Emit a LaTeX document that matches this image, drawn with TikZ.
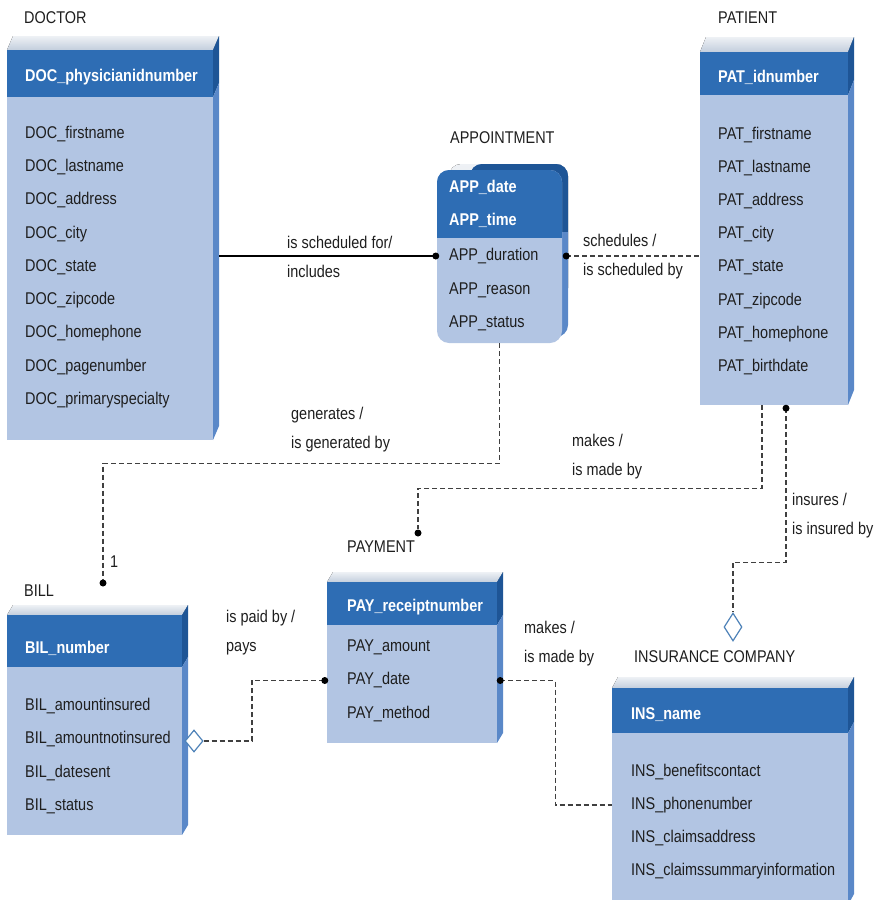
\documentclass[tikz,border=0pt]{standalone}
\usepackage{fontspec}
\setmainfont{Liberation Sans}[FakeStretch=0.85]
\usetikzlibrary{shapes.geometric,fit}
\definecolor{headblue}{HTML}{2E6DB4}
\definecolor{bodyblue}{HTML}{B2C5E3}
\definecolor{sidedark}{HTML}{1E5596}
\definecolor{sidemid}{HTML}{5A88C8}
\definecolor{topgrey}{HTML}{C3CEDD}
\definecolor{toplight}{HTML}{EEF1F5}
\definecolor{txt}{HTML}{1E1E1E}
\definecolor{diamondblue}{HTML}{4E82B8}
\tikzset{
 every node/.style={font=\fontsize{17}{29}\selectfont, text=txt},
 front/.style={rectangle, inner sep=0, fill=bodyblue},
 keyattr/.style={anchor=west, inner sep=0, text=white, font=\fontsize{17}{29}\selectfont\bfseries},
 attr/.style={anchor=west, inner sep=0},
 title/.style={anchor=west, inner sep=0},
 rel/.style={anchor=west, inner sep=0, align=left},
 idrel/.style={draw=black, line width=2pt},
 nonid/.style={draw=txt!85, line width=1.3pt, dash pattern=on 5pt off 3pt},
 dot/.style={circle, fill=black, inner sep=0, minimum size=7pt},
 agg/.style={diamond, draw=diamondblue, fill=white, line width=1.2pt, inner sep=0, minimum width=18pt, minimum height=24pt},
}
% #1 name, #2 x1, #3 y1, #4 x2, #5 y2, #6 header bottom, #7 top depth
\newcommand\erbox[7]{%
 \fill[top color=toplight, bottom color=topgrey] (#2,#3) -- (#2+6,#3-#7) -- (#4+6,#3-#7) -- (#4,#3) -- cycle;
 \fill[sidedark] (#4,#3) -- (#4+6,#3-#7) -- (#4+6,#6-#7) -- (#4,#6) -- cycle;
 \fill[sidemid] (#4,#6) -- (#4+6,#6-#7) -- (#4+6,#5-#7) -- (#4,#5) -- cycle;
 \node[front, fit={(#2,#3) (#4,#5)}] (#1) {};
 \fill[headblue] (#2,#3) rectangle (#4,#6);
}
\begin{document}
\begin{tikzpicture}[x=1pt,y=-1pt]
\useasboundingbox (0,0) rectangle (878,900);

% ---------- DOCTOR
\erbox{doc}{7}{50}{213}{440}{97}{14}
\node[title] (doctitle) at (24,18) {DOCTOR};
\node[keyattr] (dockey) at (25,77) {DOC\_physicianidnumber};
\foreach \t [count=\i] in {firstname,lastname,address,city,state,zipcode,homephone,pagenumber,primaryspecialty}
  \node[attr] (doc\i) at (25,{134+(\i-1)*33.25}) {DOC\_\t};

% ---------- PATIENT
\erbox{pat}{700}{52}{848}{405}{95}{15}
\node[title] (pattitle) at (718,18) {PATIENT};
\node[keyattr] (patkey) at (718,77) {PAT\_idnumber};
\foreach \t [count=\i] in {firstname,lastname,address,city,state,zipcode,homephone,birthdate}
  \node[attr] (pat\i) at (718,{135+(\i-1)*33.15}) {PAT\_\t};

% ---------- APPOINTMENT
\fill[top color=toplight, bottom color=topgrey, rounded corners=12pt] (449,164) rectangle (568,300);
\fill[sidemid, rounded corners=12pt] (470,164) rectangle (568,337);
\begin{scope}
 \clip[rounded corners=12pt] (470,164) rectangle (568,337);
 \fill[sidedark] (470,164) rectangle (568,232);
\end{scope}
\node[front, rounded corners=12pt, fit={(437,170) (562,343)}] (app) {};
\begin{scope}
 \clip[rounded corners=12pt] (437,170) rectangle (562,343);
 \fill[headblue] (437,170) rectangle (562,238);
\end{scope}
\node[title] (apptitle) at (450,138) {APPOINTMENT};
\node[keyattr] (appk1) at (449,187) {APP\_date};
\node[keyattr] (appk2) at (449,220) {APP\_time};
\node[attr] (app1) at (449,256) {APP\_duration};
\node[attr] (app2) at (449,290) {APP\_reason};
\node[attr] (app3) at (449,323) {APP\_status};

% ---------- BILL
\erbox{bil}{7}{615}{182}{835}{667}{10}
\node[title] (biltitle) at (24,591) {BILL};
\node[keyattr] (bilkey) at (25,648) {BIL\_number};
\foreach \t [count=\i] in {amountinsured,amountnotinsured,datesent,status}
  \node[attr] (bil\i) at (25,{706+(\i-1)*33.3}) {BIL\_\t};

% ---------- PAYMENT
\erbox{pay}{327}{582}{497}{743}{625}{10}
\node[title] (paytitle) at (347,547) {PAYMENT};
\node[keyattr] (paykey) at (347,607) {PAY\_receiptnumber};
\foreach \t [count=\i] in {amount,date,method}
  \node[attr] (pay\i) at (347,{647+(\i-1)*33.5}) {PAY\_\t};

% ---------- INSURANCE COMPANY
\erbox{ins}{612}{688}{848}{905}{733}{11}
\node[title] (instit) at (634,657) {INSURANCE COMPANY};
\node[keyattr] (inskey) at (631,715) {INS\_name};
\foreach \t [count=\i] in {benefitscontact,phonenumber,claimsaddress,claimssummaryinformation}
  \node[attr] (ins\i) at (631,{772+(\i-1)*33}) {INS\_\t};

% ---------- connectors
\node[dot] (bd) at (103,583) {};
\node[dot] (pd) at (418,533) {};
\node[agg, minimum height=28pt] (idia) at (733,627) {};
\node[agg, minimum height=22pt] (bdia) at (194,741) {};

\draw[idrel] ([xshift=6pt]doc.east |- app1) -- ([xshift=-1pt]app.west |- app1) node[dot] (d1) {};
\draw[nonid] ([xshift=4pt]app.east |- app1) node[dot] (d2) {} -- (pat.west |- app1);
\draw[nonid] (app.south) -- ++(0,120) -| (bd);
\draw[nonid] ([xshift=-12pt]pat.south) -- ++(0,83) -| (pd);
\draw[nonid] ([xshift=12pt,yshift=-3pt]pat.south) node[dot] (d3) {} -- ++(0,154) -| (idia);
\draw[nonid] (bdia) -- ++(58,0) |- ([xshift=-2pt]pay.west |- pay2) node[dot] (d4) {};
\draw[nonid] ([xshift=3pt]pay.east |- pay2) node[dot] (d5) {} -- ++(55,0) |- (ins.west |- ins2);

% ---------- relationship labels
\node[rel] (l1) at (287,257) {is scheduled for/\\includes};
\node[rel] (l2) at (583,257) {schedules /\\is scheduled by};
\node[rel] (l3) at (291,430) {generates /\\is generated by};
\node[rel] (l4) at (110,562) {1};
\node[rel] (l5) at (572,457) {makes /\\is made by};
\node[rel] (l6) at (792,516) {insures /\\is insured by};
\node[rel] (l7) at (226,633) {is paid by /\\pays};
\node[rel] (l8) at (524,644) {makes /\\is made by};
\end{tikzpicture}
\end{document}
